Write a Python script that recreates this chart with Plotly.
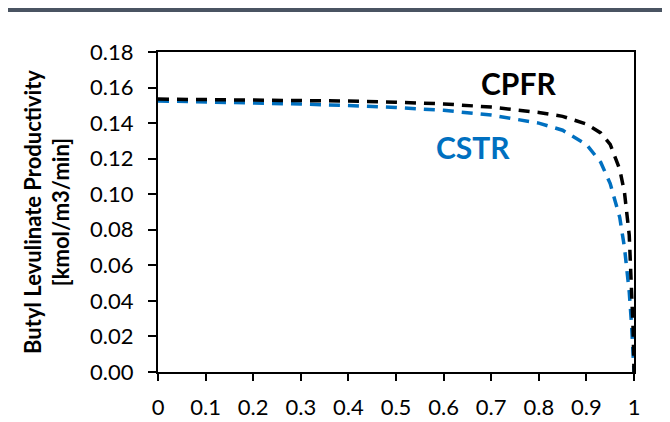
import plotly.graph_objects as go

x_cpfr = [0, 0.1, 0.2, 0.3, 0.4, 0.5, 0.6, 0.7, 0.8, 0.85, 0.9, 0.93, 0.95, 0.97, 0.98, 0.99, 0.995, 0.998, 1.0]
y_cpfr = [0.1535, 0.1533, 0.1531, 0.1528, 0.1524, 0.1518, 0.1508, 0.1490, 0.1460, 0.1438, 0.1395, 0.1345, 0.1280, 0.1140, 0.1010, 0.0770, 0.0500, 0.0250, 0.0]
x_cstr = [0, 0.1, 0.2, 0.3, 0.4, 0.5, 0.6, 0.7, 0.8, 0.85, 0.9, 0.93, 0.95, 0.97, 0.98, 0.99, 0.995, 0.998, 1.0]
y_cstr = [0.1525, 0.1520, 0.1514, 0.1507, 0.1499, 0.1488, 0.1472, 0.1445, 0.1400, 0.1360, 0.1280, 0.1180, 0.1060, 0.0870, 0.0700, 0.0450, 0.0260, 0.0110, 0.0]
x_ticks = [0, 0.1, 0.2, 0.3, 0.4, 0.5, 0.6, 0.7, 0.8, 0.9, 1]
x_tick_labels = ["0", "0.1", "0.2", "0.3", "0.4", "0.5", "0.6", "0.7", "0.8", "0.9", "1"]
y_ticks = [0, 0.02, 0.04, 0.06, 0.08, 0.10, 0.12, 0.14, 0.16, 0.18]
y_tick_labels = ["0.00", "0.02", "0.04", "0.06", "0.08", "0.10", "0.12", "0.14", "0.16", "0.18"]

BLUE = "#0070C0"
FONT = "Lato, Open Sans, sans-serif"

fig = go.Figure()
fig.add_trace(go.Scatter(x=x_cstr, y=y_cstr, mode="lines",
                         line=dict(color=BLUE, width=3.5, dash="11px,8px"), name="CSTR"))
fig.add_trace(go.Scatter(x=x_cpfr, y=y_cpfr, mode="lines",
                         line=dict(color="black", width=3.5, dash="11px,8px"), name="CPFR"))

fig.add_annotation(x=0.758, y=0.1626, text="<b>CPFR</b>", showarrow=False,
                   font=dict(size=30, color="black", family=FONT))
fig.add_annotation(x=0.661, y=0.1266, text="<b>CSTR</b>", showarrow=False,
                   font=dict(size=30, color=BLUE, family=FONT))

fig.add_shape(type="rect", xref="paper", yref="paper", x0=-1, x1=2,
              y0=1.0 + 40/320, y1=1.0 + 50/320,
              fillcolor="#4a5462", line=dict(width=0), layer="above")

fig.update_xaxes(range=[0, 1], tickvals=x_ticks, ticktext=x_tick_labels,
                 showline=True, linecolor="black", linewidth=2, mirror=True,
                 ticks="outside", ticklen=7, tickwidth=2, tickcolor="black",
                 showgrid=False, zeroline=False, ticklabelstandoff=8, automargin=False,
                 tickfont=dict(size=22, color="black", family=FONT))
fig.update_yaxes(range=[0, 0.18], tickvals=y_ticks, ticktext=y_tick_labels,
                 showline=True, linecolor="black", linewidth=2, mirror=True,
                 ticks="outside", ticklen=8, tickwidth=2, tickcolor="black",
                 showgrid=False, zeroline=False, ticklabelstandoff=10, automargin=False,
                 tickfont=dict(size=22, color="black", family=FONT),
                 title=dict(text="<b>Butyl Levulinate Productivity<br>[kmol/m3/min]</b>",
                            font=dict(size=22, color="black", family=FONT), standoff=14))

fig.update_layout(width=662, height=414, margin=dict(l=150, r=36, t=44, b=50),
                  plot_bgcolor="white", paper_bgcolor="white", showlegend=False)

fig.write_html("out.html")
